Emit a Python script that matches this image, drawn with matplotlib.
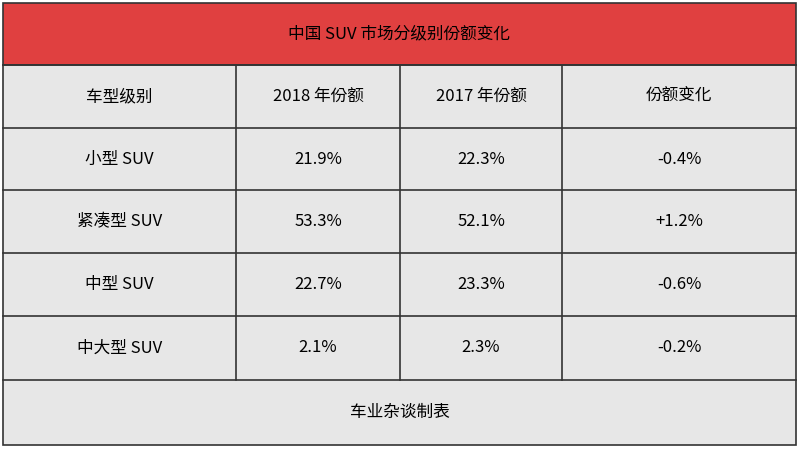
import matplotlib
matplotlib.use("Agg")
import matplotlib.pyplot as plt
from matplotlib.patches import Rectangle
from matplotlib import font_manager

names = {f.name for f in font_manager.fontManager.ttflist}
cands = [n for n in ["Noto Sans CJK SC", "Noto Sans CJK JP", "Noto Sans CJK TC", "Noto Sans CJK KR",
                     "Noto Sans SC", "Noto Sans CJK"] if n in names]
if not cands:
    cands = [n for n in names if "CJK" in n]
plt.rcParams["font.family"] = cands + ["DejaVu Sans"]

title = "中国 SUV 市场分级别份额变化"
columns = ["车型级别", "2018 年份额", "2017 年份额", "份额变化"]
categories = ["小型 SUV", "紧凑型 SUV", "中型 SUV", "中大型 SUV"]
share_2018 = ["21.9%", "53.3%", "22.7%", "2.1%"]
share_2017 = ["22.3%", "52.1%", "23.3%", "2.3%"]
change = ["-0.4%", "+1.2%", "-0.6%", "-0.2%"]
footer = "车业杂谈制表"

fig = plt.figure(figsize=(8, 4.5), dpi=100)
ax = fig.add_axes([0, 0, 1, 1])
ax.set_xlim(0, 800)
ax.set_ylim(450, 0)
ax.axis("off")

x0, x1 = 3, 796
col_x = [3, 236, 400, 562, 796]
row_y = [3, 65, 128, 190, 253, 316, 380, 445]
red = "#e04040"
grey = "#e7e7e7"
lc = "#333333"
fs = 12

ax.add_patch(Rectangle((x0, row_y[0]), x1 - x0, row_y[1] - row_y[0], fc=red, ec=lc, lw=1.2))
ax.add_patch(Rectangle((x0, row_y[1]), x1 - x0, row_y[-1] - row_y[1], fc=grey, ec=lc, lw=1.2))
for y in row_y[1:-1]:
    ax.plot([x0, x1], [y, y], color=lc, lw=1.2)
for x in col_x[1:-1]:
    ax.plot([x, x], [row_y[1], row_y[-2]], color=lc, lw=1.2)

ax.text((x0 + x1) / 2, (row_y[0] + row_y[1]) / 2, title, ha="center", va="center", fontsize=fs)
rows = [columns] + [list(r) for r in zip(categories, share_2018, share_2017, change)]
for i, r in enumerate(rows):
    yc = (row_y[i + 1] + row_y[i + 2]) / 2
    for j, t in enumerate(r):
        xc = (col_x[j] + col_x[j + 1]) / 2
        ax.text(xc, yc, t, ha="center", va="center", fontsize=fs)
ax.text((x0 + x1) / 2, (row_y[-2] + row_y[-1]) / 2, footer, ha="center", va="center", fontsize=fs)

fig.savefig("out.png", dpi=100)
